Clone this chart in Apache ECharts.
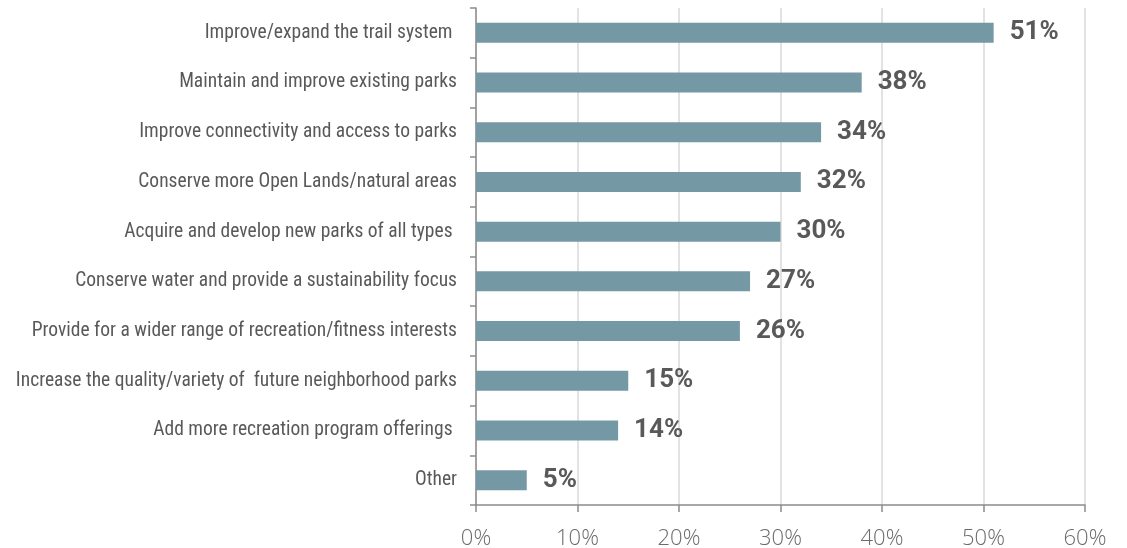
<!DOCTYPE html>
<html>
<head>
<meta charset="utf-8">
<script src="https://cdn.jsdelivr.net/npm/echarts@6/dist/echarts.min.js"></script>
<style>
  html, body { margin: 0; padding: 0; background: #fff; }
  #chart { width: 1127px; height: 548px; }
</style>
</head>
<body>
<div id="chart"></div>
<script>
// Survey priorities, share of respondents (%)
const categories = [
  'Improve/expand the trail system ',
  'Maintain and improve existing parks',
  'Improve connectivity and access to parks',
  'Conserve more Open Lands/natural areas',
  'Acquire and develop new parks of all types ',
  'Conserve water and provide a sustainability focus',
  'Provide for a wider range of recreation/fitness interests',
  'Increase the quality/variety of  future neighborhood parks',
  'Add more recreation program offerings ',
  'Other'
];
const values = [51, 38, 34, 32, 30, 27, 26, 15, 14, 5];
const xTicks = [0, 10, 20, 30, 40, 50, 60];

const narrow = '"Liberation Sans Narrow", "Roboto Condensed", "DejaVu Sans Condensed", sans-serif';

const chart = echarts.init(document.getElementById('chart'));
chart.setOption({
  animation: false,
  grid: { left: 476, right: 42, top: 8, bottom: 43, containLabel: false, outerBoundsMode: 'none' },
  xAxis: {
    type: 'value',
    min: xTicks[0],
    max: xTicks[xTicks.length - 1],
    interval: 10,
    axisLine: { show: true, lineStyle: { color: '#8c8c8c', width: 1.5 } },
    axisTick: { show: true, length: 7, lineStyle: { color: '#8c8c8c', width: 1.5 } },
    axisLabel: {
      formatter: '{value}%',
      color: '#6b6b6b',
      fontSize: 22,
      fontWeight: 300,
      fontFamily: '"Open Sans", "Liberation Sans", sans-serif',
      margin: 23
    },
    splitLine: { show: true, lineStyle: { color: '#d9d9d9', width: 1.5 } }
  },
  yAxis: {
    type: 'category',
    data: categories,
    inverse: true,
    axisLine: { show: true, lineStyle: { color: '#8c8c8c', width: 1.5 } },
    axisTick: { show: true, length: 6, lineStyle: { color: '#8c8c8c', width: 1.5 } },
    axisLabel: {
      color: '#595959',
      fontSize: 19.5,
      fontFamily: narrow,
      margin: 19
    }
  },
  series: [{
    type: 'bar',
    data: values,
    barWidth: 20,
    itemStyle: { color: '#7599a4' },
    label: {
      show: true,
      position: 'right',
      distance: 16,
      formatter: '{c}%',
      color: '#595959',
      fontSize: 26,
      fontWeight: 'bold',
      fontFamily: 'Roboto, sans-serif'
    }
  }]
});
</script>
</body>
</html>
